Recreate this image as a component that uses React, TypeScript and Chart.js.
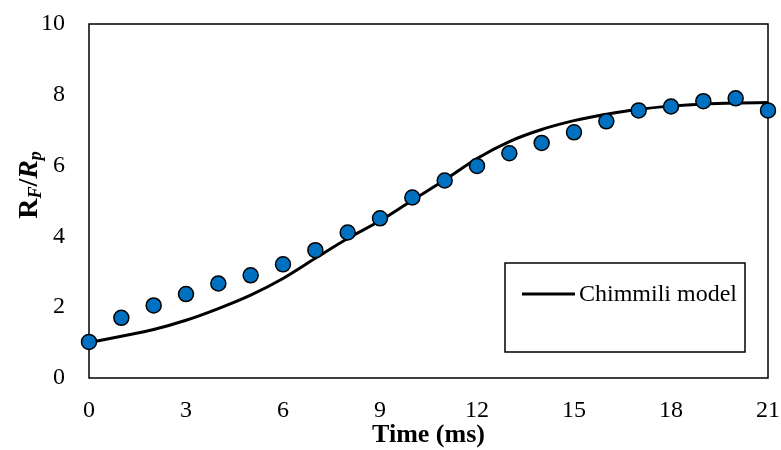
import React, { useEffect, useRef } from "react";
import { Chart, registerables } from "chart.js";

Chart.register(...registerables);

const timeMs = [0, 1, 2, 3, 4, 5, 6, 7, 8, 9, 10, 11, 12, 13, 14, 15, 16, 17, 18, 19, 20, 21];
const measured = [1.02, 1.7, 2.05, 2.37, 2.67, 2.9, 3.21, 3.61, 4.11, 4.51, 5.1, 5.58, 5.99, 6.35, 6.64, 6.94, 7.25, 7.56, 7.67, 7.82, 7.9, 7.56];
const modelTime = [0, 1, 2, 3, 4, 5, 6, 7, 8, 9, 10, 11, 12, 13, 14, 15, 16, 17, 18, 19, 20, 21];
const modelValues = [1.0, 1.18, 1.37, 1.63, 1.96, 2.34, 2.81, 3.38, 3.94, 4.44, 5.02, 5.59, 6.2, 6.68, 7.02, 7.27, 7.45, 7.59, 7.68, 7.74, 7.77, 7.78];
const xTicks = [0, 3, 6, 9, 12, 15, 18, 21];
const yTicks = [0, 2, 4, 6, 8, 10];
const legendLabel = "Chimmili model";
const xTitle = "Time (ms)";

const SERIF = "'Liberation Serif', 'Times New Roman', serif";

const decor = {
  id: "decor",
  beforeDatasetsDraw(chart: any) {
    const { ctx, chartArea: a } = chart;
    ctx.save();
    ctx.strokeStyle = "#000";
    ctx.lineWidth = 1.5;
    ctx.strokeRect(a.left, a.top, a.right - a.left, a.bottom - a.top);
    ctx.restore();
  },
  afterDatasetsDraw(chart: any) {
    const { ctx, chartArea: a } = chart;
    ctx.save();
    const bx = a.right - 263;
    const by = a.top + 239;
    const bw = 240;
    const bh = 89;
    ctx.fillStyle = "#fff";
    ctx.fillRect(bx, by, bw, bh);
    ctx.strokeStyle = "#000";
    ctx.lineWidth = 1.5;
    ctx.strokeRect(bx, by, bw, bh);
    const ly = by + 31;
    ctx.lineWidth = 3;
    ctx.beginPath();
    ctx.moveTo(bx + 17, ly);
    ctx.lineTo(bx + 70, ly);
    ctx.stroke();
    ctx.fillStyle = "#000";
    ctx.font = `24px ${SERIF}`;
    ctx.textBaseline = "middle";
    ctx.textAlign = "left";
    ctx.fillText(legendLabel, bx + 74, ly + 1);
    ctx.restore();
  },
  afterDraw(chart: any) {
    const { ctx, chartArea: a } = chart;
    ctx.save();
    ctx.fillStyle = "#000";
    // x title
    ctx.font = `bold 26px ${SERIF}`;
    ctx.textAlign = "center";
    ctx.textBaseline = "alphabetic";
    ctx.fillText(xTitle, (a.left + a.right) / 2, 442);
    // y title  R_F/R_p
    const fs = 28;
    const sub = 18;
    const parts = [
      { t: "R", f: `bold ${fs}px ${SERIF}`, dy: 0 },
      { t: "F", f: `italic bold ${sub}px ${SERIF}`, dy: 4 },
      { t: "/", f: `bold ${fs}px ${SERIF}`, dy: 0 },
      { t: "R", f: `italic bold ${fs}px ${SERIF}`, dy: 0 },
      { t: "p", f: `italic bold ${sub}px ${SERIF}`, dy: 4 },
    ];
    let total = 0;
    for (const p of parts) {
      ctx.font = p.f;
      total += ctx.measureText(p.t).width;
    }
    ctx.translate(37, 185);
    ctx.rotate(-Math.PI / 2);
    ctx.textAlign = "left";
    let x = -total / 2;
    for (const p of parts) {
      ctx.font = p.f;
      ctx.fillText(p.t, x, p.dy);
      x += ctx.measureText(p.t).width;
    }
    ctx.restore();
  },
};

export default function App() {
  const ref = useRef<HTMLCanvasElement | null>(null);
  useEffect(() => {
    document.body.style.margin = "0";
    if (!ref.current) return;
    const chart = new Chart(ref.current, {
      type: "line",
      data: {
        datasets: [
          {
            type: "scatter",
            label: "Measured",
            data: timeMs.map((t, i) => ({ x: t, y: measured[i] })),
            backgroundColor: "#0070C0",
            borderColor: "#000",
            borderWidth: 1.5,
            pointRadius: 7.5,
            pointHoverRadius: 7.5,
            showLine: false,
            clip: false as any,
          },
          {
            type: "line",
            label: legendLabel,
            data: modelTime.map((t, i) => ({ x: t, y: modelValues[i] })),
            borderColor: "#000",
            borderWidth: 3,
            pointRadius: 0,
            fill: false,
            cubicInterpolationMode: "monotone",
          },
        ],
      },
      options: {
        animation: false,
        responsive: true,
        maintainAspectRatio: false,
        layout: { padding: { left: 0, top: 24, right: 13, bottom: 0 } },
        plugins: { legend: { display: false }, tooltip: { enabled: false } },
        scales: {
          x: {
            type: "linear",
            min: 0,
            max: 21,
            grid: { display: false, drawTicks: false },
            border: { display: false },
            afterBuildTicks: (s: any) => {
              s.ticks = xTicks.map((v) => ({ value: v }));
            },
            afterFit: (s: any) => {
              s.height = 72;
              s.paddingLeft = 0;
              s.paddingRight = 0;
            },
            ticks: {
              padding: 18,
              color: "#000",
              font: { family: SERIF, size: 24 },
            },
          },
          y: {
            type: "linear",
            min: 0,
            max: 10,
            grid: { display: false, drawTicks: false },
            border: { display: false },
            afterBuildTicks: (s: any) => {
              s.ticks = yTicks.map((v) => ({ value: v }));
            },
            afterFit: (s: any) => {
              s.width = 89;
              s.paddingTop = 0;
              s.paddingBottom = 0;
            },
            ticks: {
              padding: 24,
              color: "#000",
              font: { family: SERIF, size: 24 },
            },
          },
        },
      },
      plugins: [decor],
    });
    return () => chart.destroy();
  }, []);
  return (
    <div style={{ position: "absolute", left: 0, top: 0, width: 781, height: 450 }}>
      <canvas ref={ref} />
    </div>
  );
}
